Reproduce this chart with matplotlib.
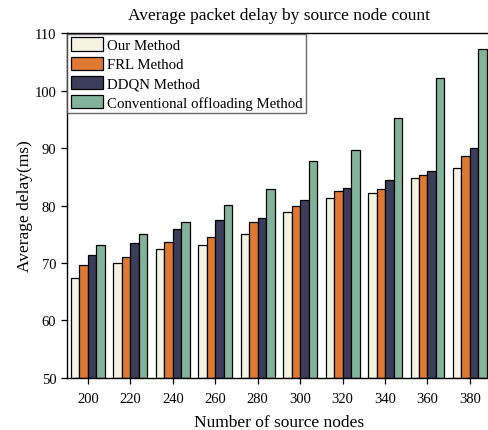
import matplotlib
matplotlib.use("Agg")
import matplotlib.pyplot as plt
import numpy as np

plt.rcParams['font.family'] = ['Liberation Serif', 'DejaVu Serif']

# source node counts on the x axis
nodes = [200, 220, 240, 260, 280, 300, 320, 340, 360, 380]

# average delay (ms) per method
our_delay = [67.3, 70.0, 72.5, 73.2, 75.1, 78.9, 81.3, 82.2, 84.8, 86.5]
frl_delay = [69.6, 71.1, 73.6, 74.6, 77.1, 79.9, 82.6, 82.9, 85.4, 88.6]
ddqn_delay = [71.3, 73.4, 75.9, 77.5, 77.9, 80.9, 83.1, 84.4, 86.0, 90.0]
conv_delay = [73.1, 75.0, 77.2, 80.1, 82.9, 87.8, 89.6, 95.2, 102.3, 107.3]

labels = ['Our Method', 'FRL Method', 'DDQN Method', 'Conventional offloading Method']
colors = ['#F4F2E0', '#DE7832', '#3B3D5B', '#83B49B']
series = [our_delay, frl_delay, ddqn_delay, conv_delay]

fig = plt.figure(figsize=(4.89, 4.31), dpi=100)
ax = fig.add_axes([0.1364, 0.1213, 0.868, 0.799])

bw = 4.0
x = np.array(nodes, dtype=float)
for i, (vals, lab, col) in enumerate(zip(series, labels, colors)):
    offs = (i - 1.5) * bw
    ax.bar(x + offs, np.array(vals) - 50, bottom=50, width=bw, color=col,
           edgecolor='black', linewidth=0.9, label=lab)

ax.set_xlim(190, 390)
ax.set_ylim(50, 110)
ax.set_xticks(nodes)
ax.set_yticks(np.arange(50, 111, 10))
ax.tick_params(axis='both', direction='out', length=4, width=0.9, labelsize=10.5)
ax.tick_params(axis='x', pad=6)
for sp in ax.spines.values():
    sp.set_linewidth(1.0)

ax.set_xlabel('Number of source nodes', fontsize=12.5, labelpad=7)
ax.set_ylabel('Average delay(ms)', fontsize=12.5, labelpad=1)
ax.set_title('Average packet delay by source node count', fontsize=12.5, pad=10)

leg = ax.legend(loc='upper left', fontsize=10.7, frameon=True, fancybox=False,
                borderaxespad=0.05, handlelength=2.2, handleheight=1.0,
                handletextpad=0.27, labelspacing=0.3, borderpad=0.22)
leg.get_frame().set_edgecolor('#444444')
leg.get_frame().set_linewidth(1.0)

fig.savefig('out.png', dpi=100)
